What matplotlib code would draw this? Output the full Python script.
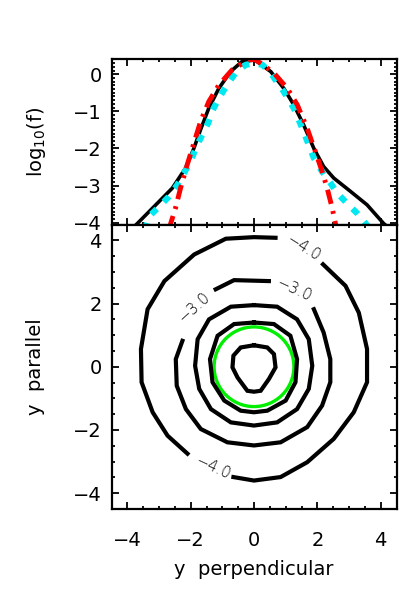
import matplotlib
matplotlib.use("Agg")
import matplotlib.pyplot as plt
from matplotlib.ticker import MultipleLocator, FixedLocator
from matplotlib.patches import Circle

# ---------------- data ----------------
black_x = [-3.80, -3.68, -2.58, -2.16, -1.90, -1.69, -1.43, -1.11, -0.74, -0.38, 0.0,
           0.10, 0.53, 0.94, 1.26, 1.57, 1.89, 2.20, 2.52, 3.05, 3.57, 4.09, 4.20]
black_y = [-4.12, -4.02, -3.07, -2.53, -2.00, -1.50, -0.92, -0.38, 0.07, 0.34, 0.38,
           0.34, 0.07, -0.38, -0.83, -1.37, -2.00, -2.49, -2.80, -3.16, -3.52, -4.02, -4.10]

red_x = [-2.68, -2.63, -2.48, -2.32, -2.11, -1.90, -1.69, -1.43, -1.11, -0.69, -0.17, 0.0,
         0.21, 0.63, 1.05, 1.37, 1.68, 1.94, 2.15, 2.31, 2.47, 2.57, 2.62]
red_y = [-4.20, -4.02, -3.61, -3.07, -2.44, -1.86, -1.28, -0.74, -0.29, 0.12, 0.39, 0.40,
         0.30, 0.03, -0.38, -0.83, -1.46, -2.09, -2.62, -3.07, -3.61, -4.02, -4.20]

cyan_x = [-3.45, -3.32, -3.00, -2.69, -2.42, -2.18, -1.98, -1.83, -1.64, -1.45, -1.30, -1.11,
          -0.85, -0.59, -0.27, 0.0, 0.27, 0.53, 0.94, 1.26, 1.57, 1.89, 2.15, 2.42, 2.63,
          2.94, 3.26, 3.52, 3.62]
cyan_y = [-4.20, -3.84, -3.57, -3.30, -2.98, -2.62, -2.30, -1.98, -1.64, -1.32, -0.96, -0.65,
          -0.29, 0.03, 0.25, 0.30, 0.25, 0.03, -0.47, -0.92, -1.55, -2.26, -2.62, -2.94, -3.21,
          -3.48, -3.75, -4.02, -4.12]

# contour level -4.0 (outer), drawn in pieces between labels
c4_segments = [
    ([2.18, 2.89, 3.31, 3.57, 3.57, 3.15, 2.52, 1.68, 0.84, 0.0, -0.65],
     [3.24, 2.56, 1.71, 0.56, -0.49, -1.44, -2.28, -3.02, -3.49, -3.60, -3.49]),
    ([-2.10, -2.73, -3.20, -3.55, -3.57, -3.36, -2.83, -1.89, -0.89, 0.0, 0.68],
     [-2.75, -2.18, -1.44, -0.49, 0.56, 1.82, 2.71, 3.55, 4.05, 4.10, 4.08]),
]
# contour level -3.0
c3_segments = [
    ([-1.21, -0.63, 0.47],
     [2.45, 2.74, 2.71]),
    ([1.89, 2.20, 2.41, 2.41, 2.15, 1.68, 0.84, 0.0, -0.84, -1.68, -2.15, -2.44, -2.47, -2.26],
     [1.82, 1.08, 0.24, -0.49, -1.23, -1.91, -2.39, -2.49, -2.39, -1.97, -1.34, -0.60, 0.24, 0.82]),
]
# closed contours: level -2.0, -1.0, 0.0
c2_x = [0.0, -0.73, -1.42, -1.78, -1.86, -1.73, -1.36, -0.73, 0.0, 0.73, 1.36, 1.73, 1.84, 1.73, 1.36, 0.73, 0.0]
c2_y = [1.95, 1.90, 1.50, 0.87, 0.03, -0.70, -1.34, -1.76, -1.86, -1.76, -1.34, -0.70, 0.03, 0.87, 1.50, 1.90, 1.95]
c1_x = [0.0, -0.63, -1.15, -1.39, -1.31, -0.94, -0.42, 0.0, 0.42, 1.00, 1.31, 1.36, 1.15, 0.63, 0.0]
c1_y = [1.40, 1.35, 0.98, 0.24, -0.49, -1.07, -1.39, -1.44, -1.39, -1.07, -0.49, 0.24, 0.98, 1.35, 1.40]
c0_x = [0.0, -0.42, -0.65, -0.68, -0.52, -0.21, 0.0, 0.21, 0.47, 0.68, 0.63, 0.42, 0.0]
c0_y = [0.68, 0.61, 0.35, -0.02, -0.34, -0.76, -0.79, -0.76, -0.39, -0.02, 0.40, 0.61, 0.68]

green_radius = 1.26

label_text = ["−4.0", "−4.0", "−3.0", "−3.0"]
label_x = [1.57, -1.31, -1.89, 1.26]
label_y = [3.76, -3.18, 1.87, 2.45]
label_rot = [-32, -25, 42, -25]

x_ticks = [-4, -2, 0, 2, 4]
top_y_ticks = [0, -1, -2, -3, -4]
bot_y_ticks = [-4, -2, 0, 2, 4]

# ---------------- figure ----------------
plt.rcParams['font.family'] = ['DejaVu Sans']
fig = plt.figure(figsize=(4.01, 6.01), dpi=100)

L = 111.5 / 401
W = 285.0 / 401
ax_top = fig.add_axes([L, (601 - 224.5) / 601, W, (224.5 - 59) / 601])
ax_bot = fig.add_axes([L, (601 - 509) / 601, W, 284.5 / 601])

for ax in (ax_top, ax_bot):
    for s in ax.spines.values():
        s.set_linewidth(1.6)
    ax.tick_params(which='both', direction='in', top=True, right=True, width=1.3,
                   labelsize=14)
    ax.tick_params(which='major', length=5)
    ax.tick_params(which='minor', length=2)
    ax.set_xlim(-4.5, 4.5)
    ax.xaxis.set_major_locator(FixedLocator(x_ticks))
    ax.xaxis.set_minor_locator(MultipleLocator(0.5))

# top panel
ax_top.plot(black_x, black_y, color='black', lw=2.6, solid_joinstyle='miter')
ax_top.plot(cyan_x, cyan_y, color='#00e8f0', lw=4.5, linestyle=(0, (1.2, 1.6)))
ax_top.plot(red_x, red_y, color='red', lw=3.5, linestyle=(0, (3, 1.5, 0.6, 1.5)))
ax_top.set_ylim(-4.05, 0.41)
ax_top.yaxis.set_major_locator(FixedLocator(top_y_ticks))
ax_top.yaxis.set_minor_locator(MultipleLocator(0.1))
ax_top.set_yticklabels([str(v).replace('-', '−') for v in top_y_ticks])
ax_top.tick_params(axis='x', labelbottom=False)
ax_top.tick_params(axis='y', pad=7)
ax_top.set_ylabel("log$_{10}$(f)", fontsize=14, labelpad=18)

# bottom panel
for sx, sy in c4_segments + c3_segments:
    ax_bot.plot(sx, sy, color='black', lw=3.0, solid_joinstyle='miter')
for cx, cy in ((c2_x, c2_y), (c1_x, c1_y), (c0_x, c0_y)):
    ax_bot.plot(cx, cy, color='black', lw=3.0, solid_joinstyle='miter')
ax_bot.add_patch(Circle((0, 0), green_radius, fill=False, edgecolor='#00ee00', lw=2.4))
for t, lx, ly, r in zip(label_text, label_x, label_y, label_rot):
    ax_bot.text(lx, ly, t, rotation=r, ha='center', va='center', fontsize=11,
                fontweight='light', rotation_mode='anchor')
ax_bot.set_ylim(-4.5, 4.5)
ax_bot.yaxis.set_major_locator(FixedLocator(bot_y_ticks))
ax_bot.yaxis.set_minor_locator(MultipleLocator(0.5))
ax_bot.set_xticklabels([str(v).replace('-', '−') for v in x_ticks])
ax_bot.set_yticklabels([str(v).replace('-', '−') for v in bot_y_ticks])
ax_bot.tick_params(axis='x', pad=16)
ax_bot.tick_params(axis='y', pad=7)
ax_bot.set_xlabel("y  perpendicular", fontsize=14, labelpad=7)
ax_bot.set_ylabel("y  parallel", fontsize=14, labelpad=20)

fig.savefig("out.png", dpi=100)
